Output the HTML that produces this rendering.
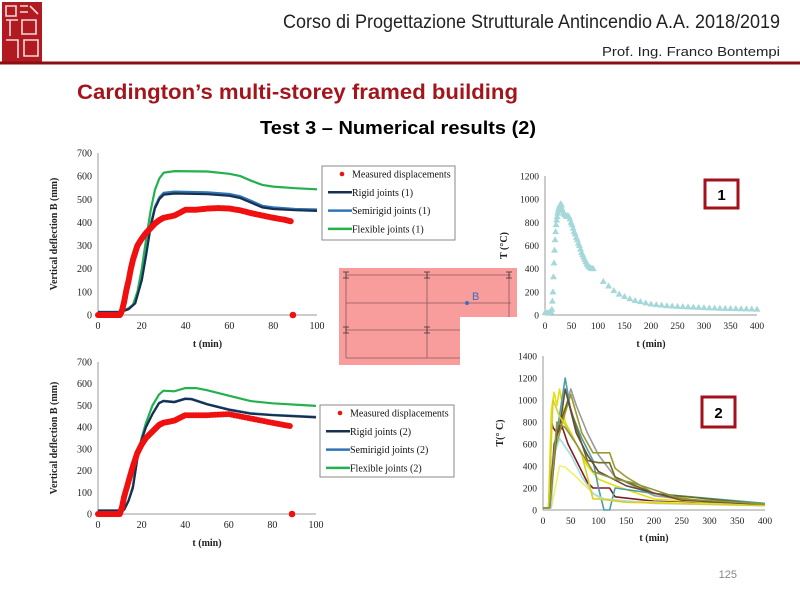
<!DOCTYPE html>
<html><head><meta charset="utf-8"><style>
html,body{margin:0;padding:0;background:#fff;}
svg{display:block;}
</style></head><body>
<svg id="s" width="800" height="600" viewBox="0 0 800 600" xmlns="http://www.w3.org/2000/svg">
<g>
<rect x="2" y="2" width="40" height="60" fill="#b01a20"/>
<path d="M6 6h10v10h-10zM20 6h8M20 12h8M30 6l8 8M6 20h12M10 20v16M22 20h14v14h-14zM6 40h12v18M24 40h14v16h-14z" stroke="#f4dada" stroke-width="1.6" fill="none"/>
</g>
<line x1="0" y1="63" x2="800" y2="63" stroke="#8b0e12" stroke-width="3"/>
<text x="780" y="28" text-anchor="end" font-family="Liberation Sans, sans-serif" font-size="19" fill="#222" textLength="497" lengthAdjust="spacingAndGlyphs">Corso di Progettazione Strutturale Antincendio A.A. 2018/2019</text>
<text x="780" y="56" text-anchor="end" font-family="Liberation Sans, sans-serif" font-size="13" fill="#222" textLength="178" lengthAdjust="spacingAndGlyphs">Prof. Ing. Franco Bontempi</text>
<text x="77" y="99" font-family="Liberation Sans, sans-serif" font-weight="bold" font-size="21" fill="#a3151b" textLength="441" lengthAdjust="spacingAndGlyphs">Cardington’s multi-storey framed building</text>
<text x="398" y="134" text-anchor="middle" font-family="Liberation Sans, sans-serif" font-weight="bold" font-size="18" fill="#000" textLength="276" lengthAdjust="spacingAndGlyphs">Test 3 – Numerical results (2)</text>
<text x="737" y="578" text-anchor="end" font-family="Liberation Sans, sans-serif" font-size="11" fill="#888">125</text>

<g>
<path d="M339 268H517V317H460V365H339Z" fill="#f89c9c"/>
<g stroke="#8a5a5a" stroke-width="0.8" fill="none">
<path d="M346 275H511M346 303H511M346 330H460M346 358H460M346 275V358M427 275V358M509 275V317"/>
<path d="M343 272h6M343 278h6M346 272v6M424 272h6M424 278h6M427 272v6M506 272h6M506 278h6M509 272v6M343 327h6M343 333h6M346 327v6M424 327h6M424 333h6M427 327v6" stroke="#333"/>
</g>
<circle cx="467" cy="303" r="2" fill="#3b6fc0"/>
<text x="472" y="300" font-family="Liberation Sans, sans-serif" font-size="11" fill="#3b6fc0">B</text>
</g>
<g><rect x="705" y="180" width="33" height="28" fill="#fff" stroke="#a3121a" stroke-width="3"/><text x="721.5" y="200" text-anchor="middle" font-family="Liberation Sans, sans-serif" font-weight="bold" font-size="15">1</text></g>
<g><rect x="702" y="397" width="33" height="30" fill="#fff" stroke="#a3121a" stroke-width="3"/><text x="718.5" y="418" text-anchor="middle" font-family="Liberation Sans, sans-serif" font-weight="bold" font-size="15">2</text></g>
</svg>
<script>
// ---- Chart A (joints 1) ----
const measA_t=[0,2,4,6,8,10,11,12,13,14,15,16,17,18,20,22,24,26,28,30,35,40,45,50,55,60,65,70,75,80,85,88];
const measA_v=[0,0,0,0,0,0,20,60,110,150,200,240,270,300,330,355,375,395,410,420,430,455,455,460,462,460,452,440,430,420,412,405];
const outlier_t=[89];const outlier_v=[0];
const rigidA_t=[0,10,14,17,20,22,24,26,28,30,35,50,60,65,70,75,80,90,100];
const rigidA_v=[12,12,25,50,150,260,380,460,500,520,525,522,515,505,485,465,458,453,450];
const semiA_v=[14,14,27,52,155,268,390,468,508,528,533,530,523,513,493,472,465,458,456];
const flexA_t=[0,10,14,16,18,20,22,24,26,28,30,35,50,60,65,70,75,80,90,100];
const flexA_v=[12,12,30,45,100,200,330,450,540,590,615,622,620,610,600,580,562,555,548,543];
// ---- Chart B (joints 2) ----
const measB_t=[0,2,4,6,8,10,11,12,14,16,18,20,22,25,28,30,35,40,50,60,70,80,88];
const measB_v=[0,0,0,0,0,0,30,80,150,220,280,320,350,380,410,420,430,455,455,460,440,420,405];
const rigidB_t=[0,10,12,14,16,18,20,22,25,28,30,35,40,43,50,60,70,80,100];
const rigidB_v=[15,15,20,60,120,250,340,400,460,510,520,515,530,528,505,480,462,455,445];
const flexB_t=[0,10,12,14,16,18,20,22,25,28,30,35,40,45,50,60,70,80,100];
const flexB_v=[15,15,20,60,130,270,350,420,500,550,568,565,580,580,570,545,520,510,498];
const yTicksDefl=[0,100,200,300,400,500,600,700];
const xTicksDefl=[0,20,40,60,80,100];
// ---- Chart T1 ----
const t1_t=[0,3,6,9,11,13,14,15,16,17,18,19,20,21,22,23,24,25,26,27,28,29,30,31,32,33,35,37,39,41,43,45,47,49,51,53,55,57,59,61,63,65,67,69,71,73,75,77,79,81,83,85,87,89,91,110,120,130,140,150,160,170,180,190,200,210,220,230,240,250,260,270,280,290,300,310,320,330,340,350,360,370,380,390,400];
const t1_v=[20,20,20,25,30,50,120,200,330,450,560,650,720,780,820,850,880,900,920,930,945,955,960,950,920,900,880,870,860,850,860,850,830,800,780,750,720,700,670,650,620,600,570,540,520,500,480,460,440,430,420,410,405,400,400,290,250,210,180,160,140,125,115,105,95,90,85,80,78,75,72,70,68,66,64,62,60,58,57,56,55,54,53,52,50];
const yTicksT1=[0,200,400,600,800,1000,1200];
const xTicksT=[0,50,100,150,200,250,300,350,400];
// ---- Chart T2 ----
const t2_series=[
 {c:"#9a9a9a",t:[0,10,15,25,40,50,60,80,100,130,200,300,400],v:[20,20,300,700,900,1100,950,700,500,300,130,70,50]},
 {c:"#7b1f2a",t:[0,12,15,18,25,35,45,60,80,90,120,130,200,400],v:[20,20,820,750,700,750,600,450,250,200,200,120,80,40]},
 {c:"#e6df10",t:[0,10,15,20,25,30,40,60,80,100,130,200,400],v:[20,20,900,1070,950,1100,800,600,400,280,220,100,40]},
 {c:"#9c9a30",t:[0,12,20,35,50,70,90,120,130,150,200,300,400],v:[20,20,500,800,1050,700,520,520,380,300,150,70,60]},
 {c:"#4aa0a8",t:[0,12,25,40,50,70,90,100,110,120,130,200,400],v:[20,20,700,1200,900,650,450,200,0,0,200,150,60]},
 {c:"#f3ef70",t:[0,15,30,40,60,80,100,150,400],v:[20,20,400,390,300,200,110,80,40]},
 {c:"#a8dcdc",t:[0,15,20,30,50,70,90,110,200,400],v:[20,20,500,650,500,300,150,100,60,40]},
 {c:"#6b6b1e",t:[0,12,25,45,60,80,100,120,130,200,400],v:[20,20,700,1000,750,450,430,430,300,150,50]},
 {c:"#6a4a3a",t:[0,12,20,30,40,60,80,100,150,250,400],v:[20,20,600,750,1100,700,500,350,220,90,50]},
 {c:"#d8d020",t:[0,10,18,30,50,70,90,100,150,400],v:[20,20,1000,850,700,500,100,100,70,40]},
 {c:"#8f9440",t:[0,12,25,40,60,90,130,160,250,400],v:[20,20,800,750,600,350,280,250,100,55]}
];
const yTicksT2=[0,200,400,600,800,1000,1200,1400];

const NS="http://www.w3.org/2000/svg";
const svg=document.getElementById('s');
function el(tag,attrs,parent){const e=document.createElementNS(NS,tag);for(const k in attrs)e.setAttribute(k,attrs[k]);(parent||svg).appendChild(e);return e;}
function lin(d0,d1,r0,r1){return v=>r0+(v-d0)/(d1-d0)*(r1-r0);}

function axes(g,X,Y,xt,yt,x0,x1,y0,y1,fs){
  el('line',{x1:x0,y1:y0,x2:x1,y2:y0,stroke:'#999','stroke-width':1},g);
  el('line',{x1:x0,y1:y0,x2:x0,y2:y1,stroke:'#999','stroke-width':1},g);
  yt.forEach(v=>{const t=el('text',{x:x0-6,y:Y(v)+3.5,'text-anchor':'end','font-family':'Liberation Serif, serif','font-size':fs,fill:'#222'},g);t.textContent=v;
    
    });
  xt.forEach(v=>{const t=el('text',{x:X(v),y:y0+14,'text-anchor':'middle','font-family':'Liberation Serif, serif','font-size':fs,fill:'#222'},g);t.textContent=v;
    
    });
}
function pathOf(ts,vs,X,Y){return ts.map((t,i)=>(i?'L':'M')+X(t).toFixed(1)+' '+Y(vs[i]).toFixed(1)).join('');}
function title(g,x,y,txt,rot){const t=el('text',{x:x,y:y,'text-anchor':'middle','font-family':'Liberation Serif, serif','font-weight':'bold','font-size':10,fill:'#222'},g);if(rot)t.setAttribute('transform','rotate(-90 '+x+' '+y+')');t.textContent=txt;return t;}

function deflChart(name,x0,x1,y0,y1,meas_t,meas_v,rig_t,rig_v,semi_t,semi_v,fl_t,fl_v,leg,lbl){
  const g=el('g',{});
  
  
  const X=lin(0,100,x0,x1),Y=lin(0,700,y0,y1);
  axes(g,X,Y,xTicksDefl,yTicksDefl,x0,x1,y0,y1,10);
  const ty=title(g,57,(y0+y1)/2,'Vertical deflection B (mm)',true);
  
  
  const tx=title(g,(x0+x1)/2,y0+32,'t (min)');
  
  
  const lines=[[fl_t,fl_v,'#22b14c','flexible-line'],[semi_t,semi_v,'#2e75b6','semirigid-line'],[rig_t,rig_v,'#17304f','rigid-line']];
  lines.forEach(l=>{const p=el('path',{d:pathOf(l[0],l[1],X,Y),fill:'none',stroke:l[2],'stroke-width':2.2},g);
    
    });
  for(let i=0;i<meas_t.length-1;i++){for(let k=0;k<8;k++){const f=k/8;const t=meas_t[i]+(meas_t[i+1]-meas_t[i])*f;const v=meas_v[i]+(meas_v[i+1]-meas_v[i])*f;
    const c=el('circle',{cx:X(t),cy:Y(v),r:3,fill:'#f01010'},g);
    
    }}
  const last=meas_t.length-1;el('circle',{cx:X(meas_t[last]),cy:Y(meas_v[last]),r:3,fill:'#f01010'},g);
  outlier_t.forEach((t,i)=>{const c=el('circle',{cx:X(t),cy:Y(outlier_v[i]),r:3.3,fill:'#f01010'},g);
    
    });
  const lg=el('g',{},g);
  
  
  el('rect',{x:leg[0],y:leg[1],width:leg[2],height:leg[3],fill:'#fff',stroke:'#888','stroke-width':1},lg);
  const items=[['Measured displacements','dot','#f01010'],['Rigid joints '+lbl,'line','#17304f'],['Semirigid joints '+lbl,'line','#2e75b6'],['Flexible joints '+lbl,'line','#22b14c']];
  items.forEach((it,i)=>{const yy=leg[1]+8+i*18.3;
    const e=el('g',{},lg);
    
    
    if(it[1]=='dot'){el('circle',{cx:leg[0]+20,cy:yy,r:2.3,fill:it[2]},e);}
    else el('line',{x1:leg[0]+6,y1:yy,x2:leg[0]+30,y2:yy,stroke:it[2],'stroke-width':2.5},e);
    const t=el('text',{x:leg[0]+30,y:yy+3.5,'font-family':'Liberation Serif, serif','font-size':10,fill:'#111'},e);t.textContent=it[0];});
}
deflChart('deflection-chart-1',98,317,315,153,measA_t,measA_v,rigidA_t,rigidA_v,rigidA_t,semiA_v,flexA_t,flexA_v,[322,166,133,74],'(1)');
deflChart('deflection-chart-2',98,316,514,362,measB_t,measB_v,rigidB_t,rigidB_v,rigidB_t,rigidB_v.map(v=>v+2),flexB_t,flexB_v,[320,405,134,72],'(2)');

// T1
(function(){
  const g=el('g',{});
  
  
  const x0=545,x1=757,y0=315,y1=176;
  const X=lin(0,400,x0,x1),Y=lin(0,1200,y0,y1);
  axes(g,X,Y,xTicksT,yTicksT1,x0,x1,y0,y1,9.5);
  const ty=title(g,507,(y0+y1)/2,'T (°C)',true);
  
  
  const tx=title(g,(x0+x1)/2,y0+32,'t (min)');
  
  
  t1_t.forEach((t,i)=>{const cx=X(t),cy=Y(t1_v[i]);
    const p=el('path',{d:`M${cx} ${cy-3.5}L${cx+3.5} ${cy+2.5}L${cx-3.5} ${cy+2.5}Z`,fill:'#a6d8da'},g);
    
    });
})();
// T2
(function(){
  const g=el('g',{});
  
  
  const x0=543,x1=765,y0=510,y1=356;
  const X=lin(0,400,x0,x1),Y=lin(0,1400,y0,y1);
  axes(g,X,Y,xTicksT,yTicksT2,x0,x1,y0,y1,9.5);
  const ty=title(g,503,(y0+y1)/2,'T(° C)',true);
  
  
  const tx=title(g,(x0+x1)/2,y0+31,'t (min)');
  
  
  t2_series.forEach(s=>{const p=el('path',{d:pathOf(s.t,s.v,X,Y),fill:'none',stroke:s.c,'stroke-width':1.6,'stroke-linejoin':'round'},g);
    
    });
})();
</script>
</body></html>
